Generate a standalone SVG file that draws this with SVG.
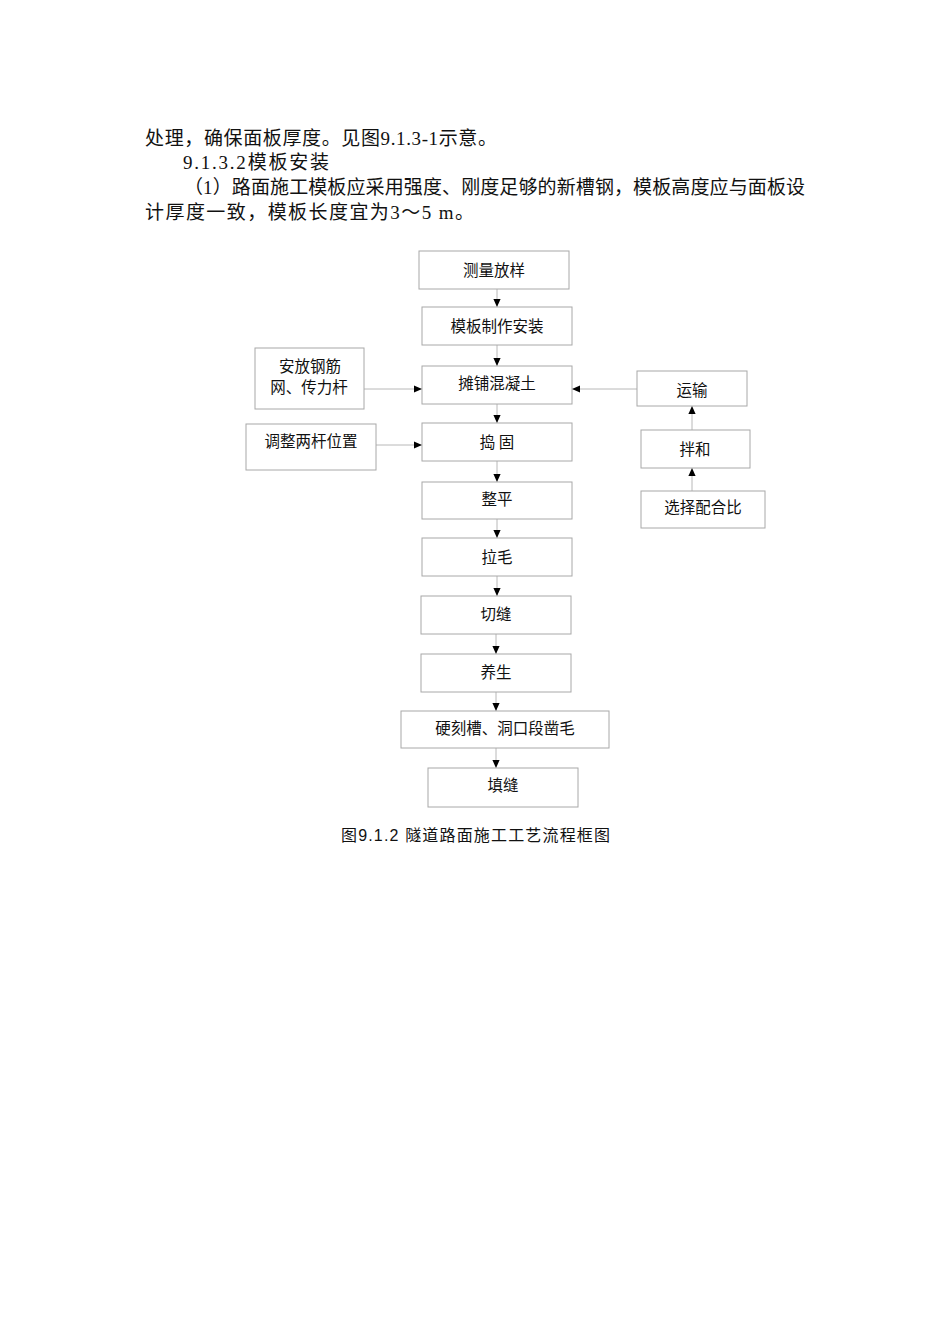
<svg xmlns="http://www.w3.org/2000/svg" width="950" height="1344" viewBox="0 0 950 1344">
<style>
.para{font-family:"Liberation Serif","Noto Sans CJK SC",serif;font-size:19px;fill:#111}
.box rect{fill:#fff;stroke:#a8a8a8;stroke-width:1}
.box text{font-family:"Noto Sans CJK SC","Liberation Sans",sans-serif;font-size:15.5px;fill:#111;text-anchor:middle}
.conn line{stroke:#b8b8b8;stroke-width:1}
.cap{font-family:"Liberation Sans","Noto Sans CJK SC",sans-serif;font-size:16px;fill:#111}
</style>
<defs>
<marker id="ah" viewBox="0 0 10 10" refX="10" refY="5" markerWidth="8" markerHeight="8" markerUnits="userSpaceOnUse" orient="auto">
<path d="M0,0.5 L10,5 L0,9.5 Z" fill="#000"/>
</marker>
</defs>
<rect width="950" height="1344" fill="#fff"/>
<text class="para" x="145" y="145" textLength="352" lengthAdjust="spacing">处理，确保面板厚度。见图9.1.3-1示意。</text>
<text class="para" x="183" y="169" textLength="146" lengthAdjust="spacing">9.1.3.2模板安装</text>
<text class="para" x="184" y="194" textLength="621" lengthAdjust="spacing">（1）路面施工模板应采用强度、刚度足够的新槽钢，模板高度应与面板设</text>
<text class="para" x="145" y="219" textLength="329" lengthAdjust="spacing">计厚度一致，模板长度宜为3～5 m。</text>

<g class="conn">
<line x1="497" y1="289" x2="497" y2="307" marker-end="url(#ah)"/>
<line x1="497" y1="345" x2="497" y2="366" marker-end="url(#ah)"/>
<line x1="497" y1="404" x2="497" y2="423" marker-end="url(#ah)"/>
<line x1="497" y1="461" x2="497" y2="482" marker-end="url(#ah)"/>
<line x1="497" y1="519" x2="497" y2="538" marker-end="url(#ah)"/>
<line x1="497" y1="576" x2="497" y2="596" marker-end="url(#ah)"/>
<line x1="496" y1="634" x2="496" y2="654" marker-end="url(#ah)"/>
<line x1="496" y1="692" x2="496" y2="711" marker-end="url(#ah)"/>
<line x1="496" y1="748" x2="496" y2="768" marker-end="url(#ah)"/>
<line x1="364" y1="389" x2="422" y2="389" marker-end="url(#ah)"/>
<line x1="637" y1="389" x2="572" y2="389" marker-end="url(#ah)"/>
<line x1="376" y1="445" x2="422" y2="445" marker-end="url(#ah)"/>
<line x1="692" y1="430" x2="692" y2="406" marker-end="url(#ah)"/>
<line x1="692" y1="491" x2="692" y2="468" marker-end="url(#ah)"/>
</g>

<g id="n1" class="box"><rect x="419" y="251" width="150" height="38"/><text x="494" y="276">测量放样</text></g>
<g id="n2" class="box"><rect x="422" y="307" width="150" height="38"/><text x="497" y="332">模板制作安装</text></g>
<g id="n3" class="box"><rect x="422" y="366" width="150" height="38"/><text x="497" y="389">摊铺混凝土</text></g>
<g id="n4" class="box"><rect x="422" y="423" width="150" height="38"/><text x="497" y="448">捣 固</text></g>
<g id="n5" class="box"><rect x="422" y="482" width="150" height="37"/><text x="497" y="505">整平</text></g>
<g id="n6" class="box"><rect x="422" y="538" width="150" height="38"/><text x="497" y="563">拉毛</text></g>
<g id="n7" class="box"><rect x="421" y="596" width="150" height="38"/><text x="496" y="620">切缝</text></g>
<g id="n8" class="box"><rect x="421" y="654" width="150" height="38"/><text x="496" y="678">养生</text></g>
<g id="n9" class="box"><rect x="401" y="711" width="208" height="37"/><text x="505" y="734">硬刻槽、洞口段凿毛</text></g>
<g id="n10" class="box"><rect x="428" y="768" width="150" height="39"/><text x="503" y="791">填缝</text></g>
<g id="s1" class="box"><rect x="255" y="348" width="109" height="61"/><text x="310" y="372">安放钢筋</text><text x="309" y="393">网、传力杆</text></g>
<g id="s2" class="box"><rect x="246" y="424" width="130" height="46"/><text x="311" y="447">调整两杆位置</text></g>
<g id="r1" class="box"><rect x="637" y="371" width="110" height="35"/><text x="692" y="396">运输</text></g>
<g id="r2" class="box"><rect x="641" y="430" width="109" height="38"/><text x="695" y="455">拌和</text></g>
<g id="r3" class="box"><rect x="641" y="491" width="124" height="37"/><text x="703" y="513">选择配合比</text></g>

<text class="cap" x="341" y="841" textLength="269" lengthAdjust="spacing">图9.1.2 隧道路面施工工艺流程框图</text>
</svg>
